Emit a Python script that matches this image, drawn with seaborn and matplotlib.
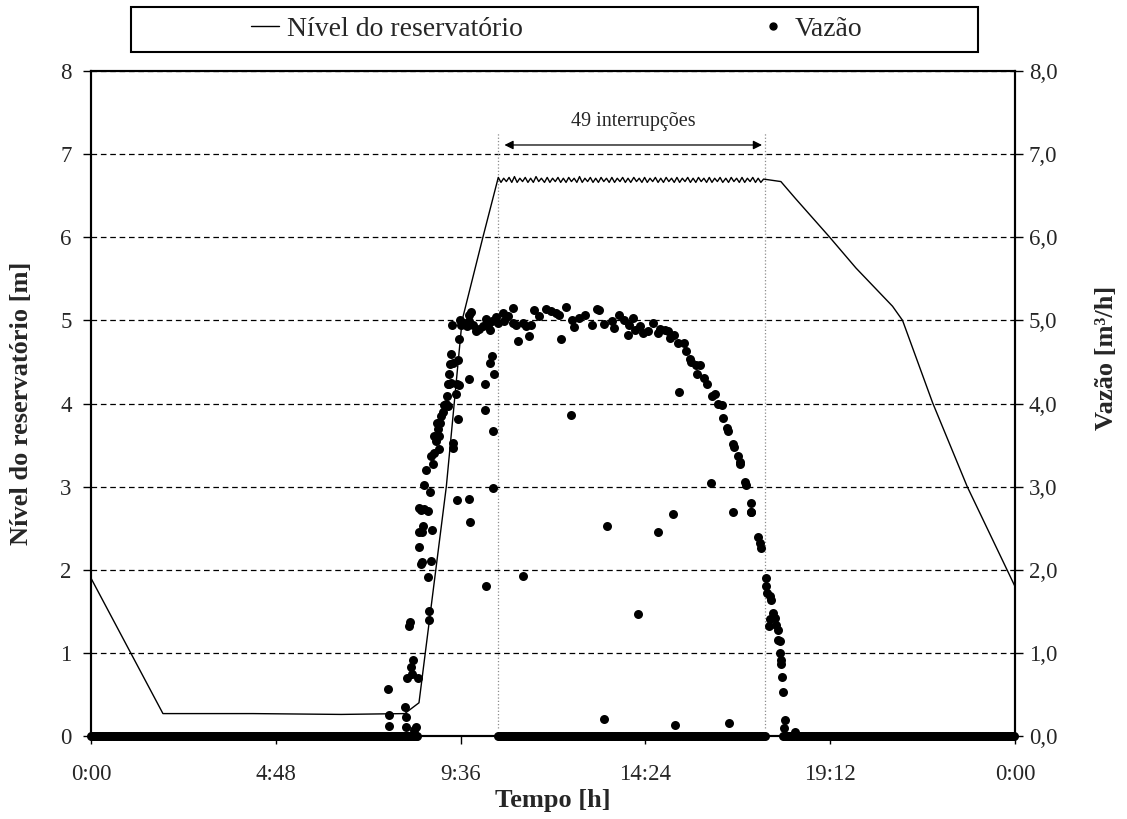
import numpy as np
import seaborn as sns
import matplotlib.pyplot as plt
from matplotlib.lines import Line2D
from matplotlib.patches import Rectangle

# Reservoir level [m]
rise_t = [0.00, 1.87, 4.20, 6.50, 8.15, 8.52, 9.23, 9.64, 10.18]
rise_v = [1.90, 0.27, 0.27, 0.26, 0.27, 0.40, 3.00, 5.00, 6.00]

# pump on/off cycles (49 interruptions) while the level sits at the top
saw_t = [10.58, 10.65, 10.72, 10.79, 10.86, 10.93, 11.00, 11.07, 11.14, 11.21,
         11.28, 11.35, 11.42, 11.49, 11.56, 11.63, 11.70, 11.78, 11.85, 11.92,
         11.99, 12.06, 12.13, 12.20, 12.27, 12.34, 12.41, 12.48, 12.55, 12.62,
         12.69, 12.76, 12.83, 12.90, 12.97, 13.04, 13.11, 13.18, 13.25, 13.32,
         13.39, 13.46, 13.53, 13.60, 13.67, 13.74, 13.81, 13.88, 13.95, 14.02,
         14.10, 14.17, 14.24, 14.31, 14.38, 14.45, 14.52, 14.59, 14.66, 14.73,
         14.80, 14.87, 14.94, 15.01, 15.08, 15.15, 15.22, 15.29, 15.36, 15.43,
         15.50, 15.57, 15.64, 15.71, 15.78, 15.85, 15.92, 15.99, 16.06, 16.13,
         16.20, 16.27, 16.34, 16.41, 16.49, 16.56, 16.63, 16.70, 16.77, 16.84,
         16.91, 16.98, 17.05, 17.12, 17.19, 17.26, 17.33, 17.40, 17.47]
saw_v = [6.72, 6.66, 6.71, 6.67, 6.72, 6.66, 6.73, 6.66, 6.71, 6.67,
         6.72, 6.66, 6.71, 6.66, 6.73, 6.67, 6.71, 6.66, 6.72, 6.66,
         6.71, 6.67, 6.72, 6.66, 6.71, 6.66, 6.72, 6.67, 6.71, 6.66,
         6.73, 6.66, 6.71, 6.67, 6.72, 6.66, 6.71, 6.66, 6.72, 6.67,
         6.71, 6.66, 6.72, 6.66, 6.71, 6.67, 6.72, 6.66, 6.71, 6.66,
         6.72, 6.67, 6.71, 6.66, 6.72, 6.66, 6.71, 6.67, 6.72, 6.66,
         6.71, 6.66, 6.72, 6.67, 6.71, 6.66, 6.72, 6.66, 6.71, 6.67,
         6.72, 6.66, 6.71, 6.66, 6.72, 6.67, 6.71, 6.66, 6.72, 6.66,
         6.71, 6.67, 6.72, 6.66, 6.71, 6.66, 6.72, 6.67, 6.71, 6.66,
         6.72, 6.66, 6.71, 6.67, 6.72, 6.66, 6.71, 6.66, 6.70]

fall_t = [17.92, 18.31, 19.17, 19.87, 20.82, 21.08, 21.86, 22.76, 24.00]
fall_v = [6.67, 6.46, 6.01, 5.63, 5.17, 5.00, 4.01, 3.00, 1.80]

# Flow [m3/h] - non-zero readings
flow_t = [7.71, 7.74, 7.74, 8.15, 8.17, 8.19, 8.21, 8.26, 8.28, 8.32,
          8.34, 8.36, 8.38, 8.45, 8.49, 8.52, 8.52, 8.53, 8.56, 8.58,
          8.60, 8.60, 8.62, 8.64, 8.66, 8.71, 8.75, 8.75, 8.78, 8.79,
          8.81, 8.84, 8.84, 8.86, 8.88, 8.92, 8.92, 8.97, 8.98, 9.01,
          9.03, 9.05, 9.07, 9.10, 9.14, 9.16, 9.22, 9.24, 9.27, 9.27,
          9.31, 9.31, 9.33, 9.35, 9.35, 9.38, 9.40, 9.41, 9.41, 9.48,
          9.50, 9.52, 9.53, 9.53, 9.55, 9.57, 9.59, 9.61, 9.70, 9.76,
          9.81, 9.83, 9.83, 9.83, 9.85, 9.87, 9.93, 10.00, 10.09, 10.17,
          10.24, 10.24, 10.26, 10.26, 10.30, 10.36, 10.36, 10.41, 10.41, 10.43,
          10.45, 10.47, 10.50, 10.52, 10.56, 10.69, 10.73, 10.82, 10.95, 10.96,
          11.03, 11.08, 11.22, 11.23, 11.29, 11.39, 11.42, 11.51, 11.64, 11.81,
          11.96, 12.09, 12.16, 12.22, 12.35, 12.48, 12.50, 12.54, 12.67, 12.84,
          13.02, 13.15, 13.19, 13.32, 13.32, 13.40, 13.53, 13.58, 13.71, 13.84,
          13.95, 13.97, 14.08, 14.14, 14.21, 14.27, 14.35, 14.48, 14.61, 14.74,
          14.74, 14.79, 14.90, 15.00, 15.04, 15.13, 15.15, 15.17, 15.26, 15.28,
          15.41, 15.45, 15.56, 15.59, 15.71, 15.73, 15.82, 15.93, 15.99, 16.10,
          16.12, 16.22, 16.29, 16.38, 16.42, 16.53, 16.55, 16.57, 16.68, 16.68,
          16.71, 16.81, 16.85, 16.85, 16.98, 17.01, 17.14, 17.15, 17.15, 17.33,
          17.37, 17.41, 17.54, 17.54, 17.57, 17.60, 17.63, 17.63, 17.67, 17.72,
          17.76, 17.80, 17.84, 17.84, 17.89, 17.89, 17.91, 17.93, 17.95, 17.97,
          18.00, 18.02, 18.29]
flow_v = [0.57, 0.25, 0.12, 0.35, 0.23, 0.11, 0.70, 1.32, 1.37, 0.83,
          0.75, 0.92, 0.07, 0.11, 0.70, 2.27, 2.46, 2.74, 2.07, 2.72,
          2.09, 2.45, 2.53, 2.73, 3.02, 3.20, 2.71, 1.91, 1.50, 1.40,
          2.94, 2.10, 3.37, 2.48, 3.27, 3.40, 3.61, 3.55, 3.77, 3.69,
          3.45, 3.61, 3.76, 3.85, 3.90, 3.98, 4.00, 4.09, 3.97, 4.23,
          4.23, 4.36, 4.48, 4.25, 4.59, 4.94, 4.49, 3.53, 3.47, 4.11,
          4.23, 2.84, 3.81, 4.52, 4.22, 4.78, 5.01, 4.95, 4.97, 4.93,
          5.06, 4.99, 4.30, 2.85, 2.57, 5.10, 4.95, 4.87, 4.90, 4.93,
          3.92, 4.24, 5.02, 1.80, 4.95, 4.89, 4.49, 4.99, 4.57, 3.67,
          2.98, 4.35, 5.01, 5.04, 4.97, 5.09, 4.99, 5.05, 5.15, 4.97,
          4.95, 4.75, 4.97, 1.92, 4.93, 4.81, 4.95, 5.13, 5.05, 5.14,
          5.11, 5.09, 5.07, 4.78, 5.16, 3.86, 5.01, 4.92, 5.03, 5.07,
          4.95, 5.14, 5.13, 4.96, 0.21, 2.53, 4.99, 4.91, 5.07, 5.01,
          4.83, 4.94, 5.03, 4.89, 1.47, 4.93, 4.85, 4.87, 4.97, 4.85,
          2.46, 4.90, 4.89, 4.87, 4.79, 2.67, 4.83, 0.13, 4.73, 4.14,
          4.73, 4.63, 4.53, 4.50, 4.46, 4.36, 4.46, 4.31, 4.23, 3.04,
          4.09, 4.11, 4.00, 3.98, 3.83, 3.71, 3.67, 0.16, 3.51, 2.69,
          3.48, 3.37, 3.30, 3.27, 3.06, 3.02, 2.69, 2.80, 2.70, 2.39,
          2.32, 2.26, 1.90, 1.80, 1.72, 1.32, 1.68, 1.41, 1.64, 1.48,
          1.42, 1.34, 1.28, 1.16, 1.14, 1.00, 0.92, 0.87, 0.71, 0.53,
          0.10, 0.19, 0.05]

# periods where the flow meter reads zero (start, end) and logging interval [h]
zero_runs = [(0.00, 8.50), (10.58, 17.52), (17.98, 24.00)]
log_step = 0.04

# pump cycling window
cycle_start, cycle_end = 10.58, 17.50

x_ticks = [0, 4.8, 9.6, 14.4, 19.2, 24]
x_labels = ['0:00', '4:48', '9:36', '14:24', '19:12', '0:00']
y_ticks = [0, 1, 2, 3, 4, 5, 6, 7, 8]
y_labels_left = ['0', '1', '2', '3', '4', '5', '6', '7', '8']
y_labels_right = ['0,0', '1,0', '2,0', '3,0', '4,0', '5,0', '6,0', '7,0', '8,0']

level_t = rise_t + saw_t + fall_t
level_v = rise_v + saw_v + fall_v

zero_t = np.concatenate([np.arange(a, b + 1e-9, log_step) for a, b in zero_runs])
all_t = np.concatenate([zero_t, flow_t])
all_v = np.concatenate([np.zeros(len(zero_t)), flow_v])

sns.set_style("ticks")
plt.rcParams['font.family'] = ['Liberation Serif', 'DejaVu Serif']

fig = plt.figure(figsize=(11.27, 8.19), dpi=100)
ax = fig.add_axes([0.0807, 0.1013, 0.8199, 0.8120])
ax2 = ax.twinx()

# dashed horizontal grid
ax.set_axisbelow(True)
ax.grid(axis='y', linestyle=(0, (4.5, 3)), color='black', linewidth=0.9)
ax.grid(axis='x', visible=False)

# interruption window markers
ax.vlines([cycle_start, cycle_end], 0.1, 7.25, colors='#8c8c8c',
          linestyles=':', linewidth=0.9)
ax.annotate('', xy=(10.74, 7.11), xytext=(17.43, 7.11),
            arrowprops=dict(arrowstyle='<|-|>', color='black', lw=0.9,
                            mutation_scale=13, shrinkA=0, shrinkB=0))
ax.text(14.08, 7.34, '49 interrupções', ha='center', va='baseline', fontsize=14.5)

sns.lineplot(x=level_t, y=level_v, ax=ax, color='black', linewidth=1.0,
             sort=False, estimator=None, legend=False)
sns.scatterplot(x=all_t, y=all_v, ax=ax2, color='black', s=42, linewidth=0,
                clip_on=False, legend=False)

for a in (ax, ax2):
    a.set_xlim(0, 24)
    a.set_ylim(0, 8)
    a.set_yticks(y_ticks)
    for s in a.spines.values():
        s.set_linewidth(1.5)
        s.set_color('black')
        s.set_visible(True)

ax.set_xticks(x_ticks)
ax.set_xticklabels(x_labels)
ax.set_yticklabels(y_labels_left)
ax2.set_yticklabels(y_labels_right)

ax.tick_params(axis='x', direction='out', length=6, width=1, labelsize=16.5, pad=14, color='black')
ax.tick_params(axis='y', direction='out', length=6, width=1, labelsize=16.5, pad=8, color='black')
ax2.tick_params(axis='y', direction='out', length=6, width=1, labelsize=16.5, pad=4, color='black')

ax.set_xlabel('Tempo [h]', fontsize=19, fontweight='bold', labelpad=3)
ax.set_ylabel('Nível do reservatório [m]', fontsize=19, fontweight='bold')
ax2.set_ylabel('Vazão [m³/h]', fontsize=19, fontweight='bold')
ax.yaxis.set_label_coords(-0.0627, 0.5)
ax2.yaxis.set_label_coords(1.087, 0.569)

# legend on top, boxed across the figure
handles = [Line2D([], [], color='black', lw=1.0),
           Line2D([], [], marker='o', ls='', color='black', markersize=5)]
fig.legend(handles, ['Nível do reservatório', 'Vazão'], ncol=2, loc='center',
           bbox_to_anchor=(0.494, 0.964), frameon=False, fontsize=20,
           handlelength=1.0, handletextpad=0.28, columnspacing=8.5)
fig.patches.append(Rectangle((131 / 1127, 1 - 52 / 819), 847 / 1127, 45 / 819,
                             transform=fig.transFigure, fill=False,
                             edgecolor='black', linewidth=1.5))

fig.savefig('out.png', dpi=100)
